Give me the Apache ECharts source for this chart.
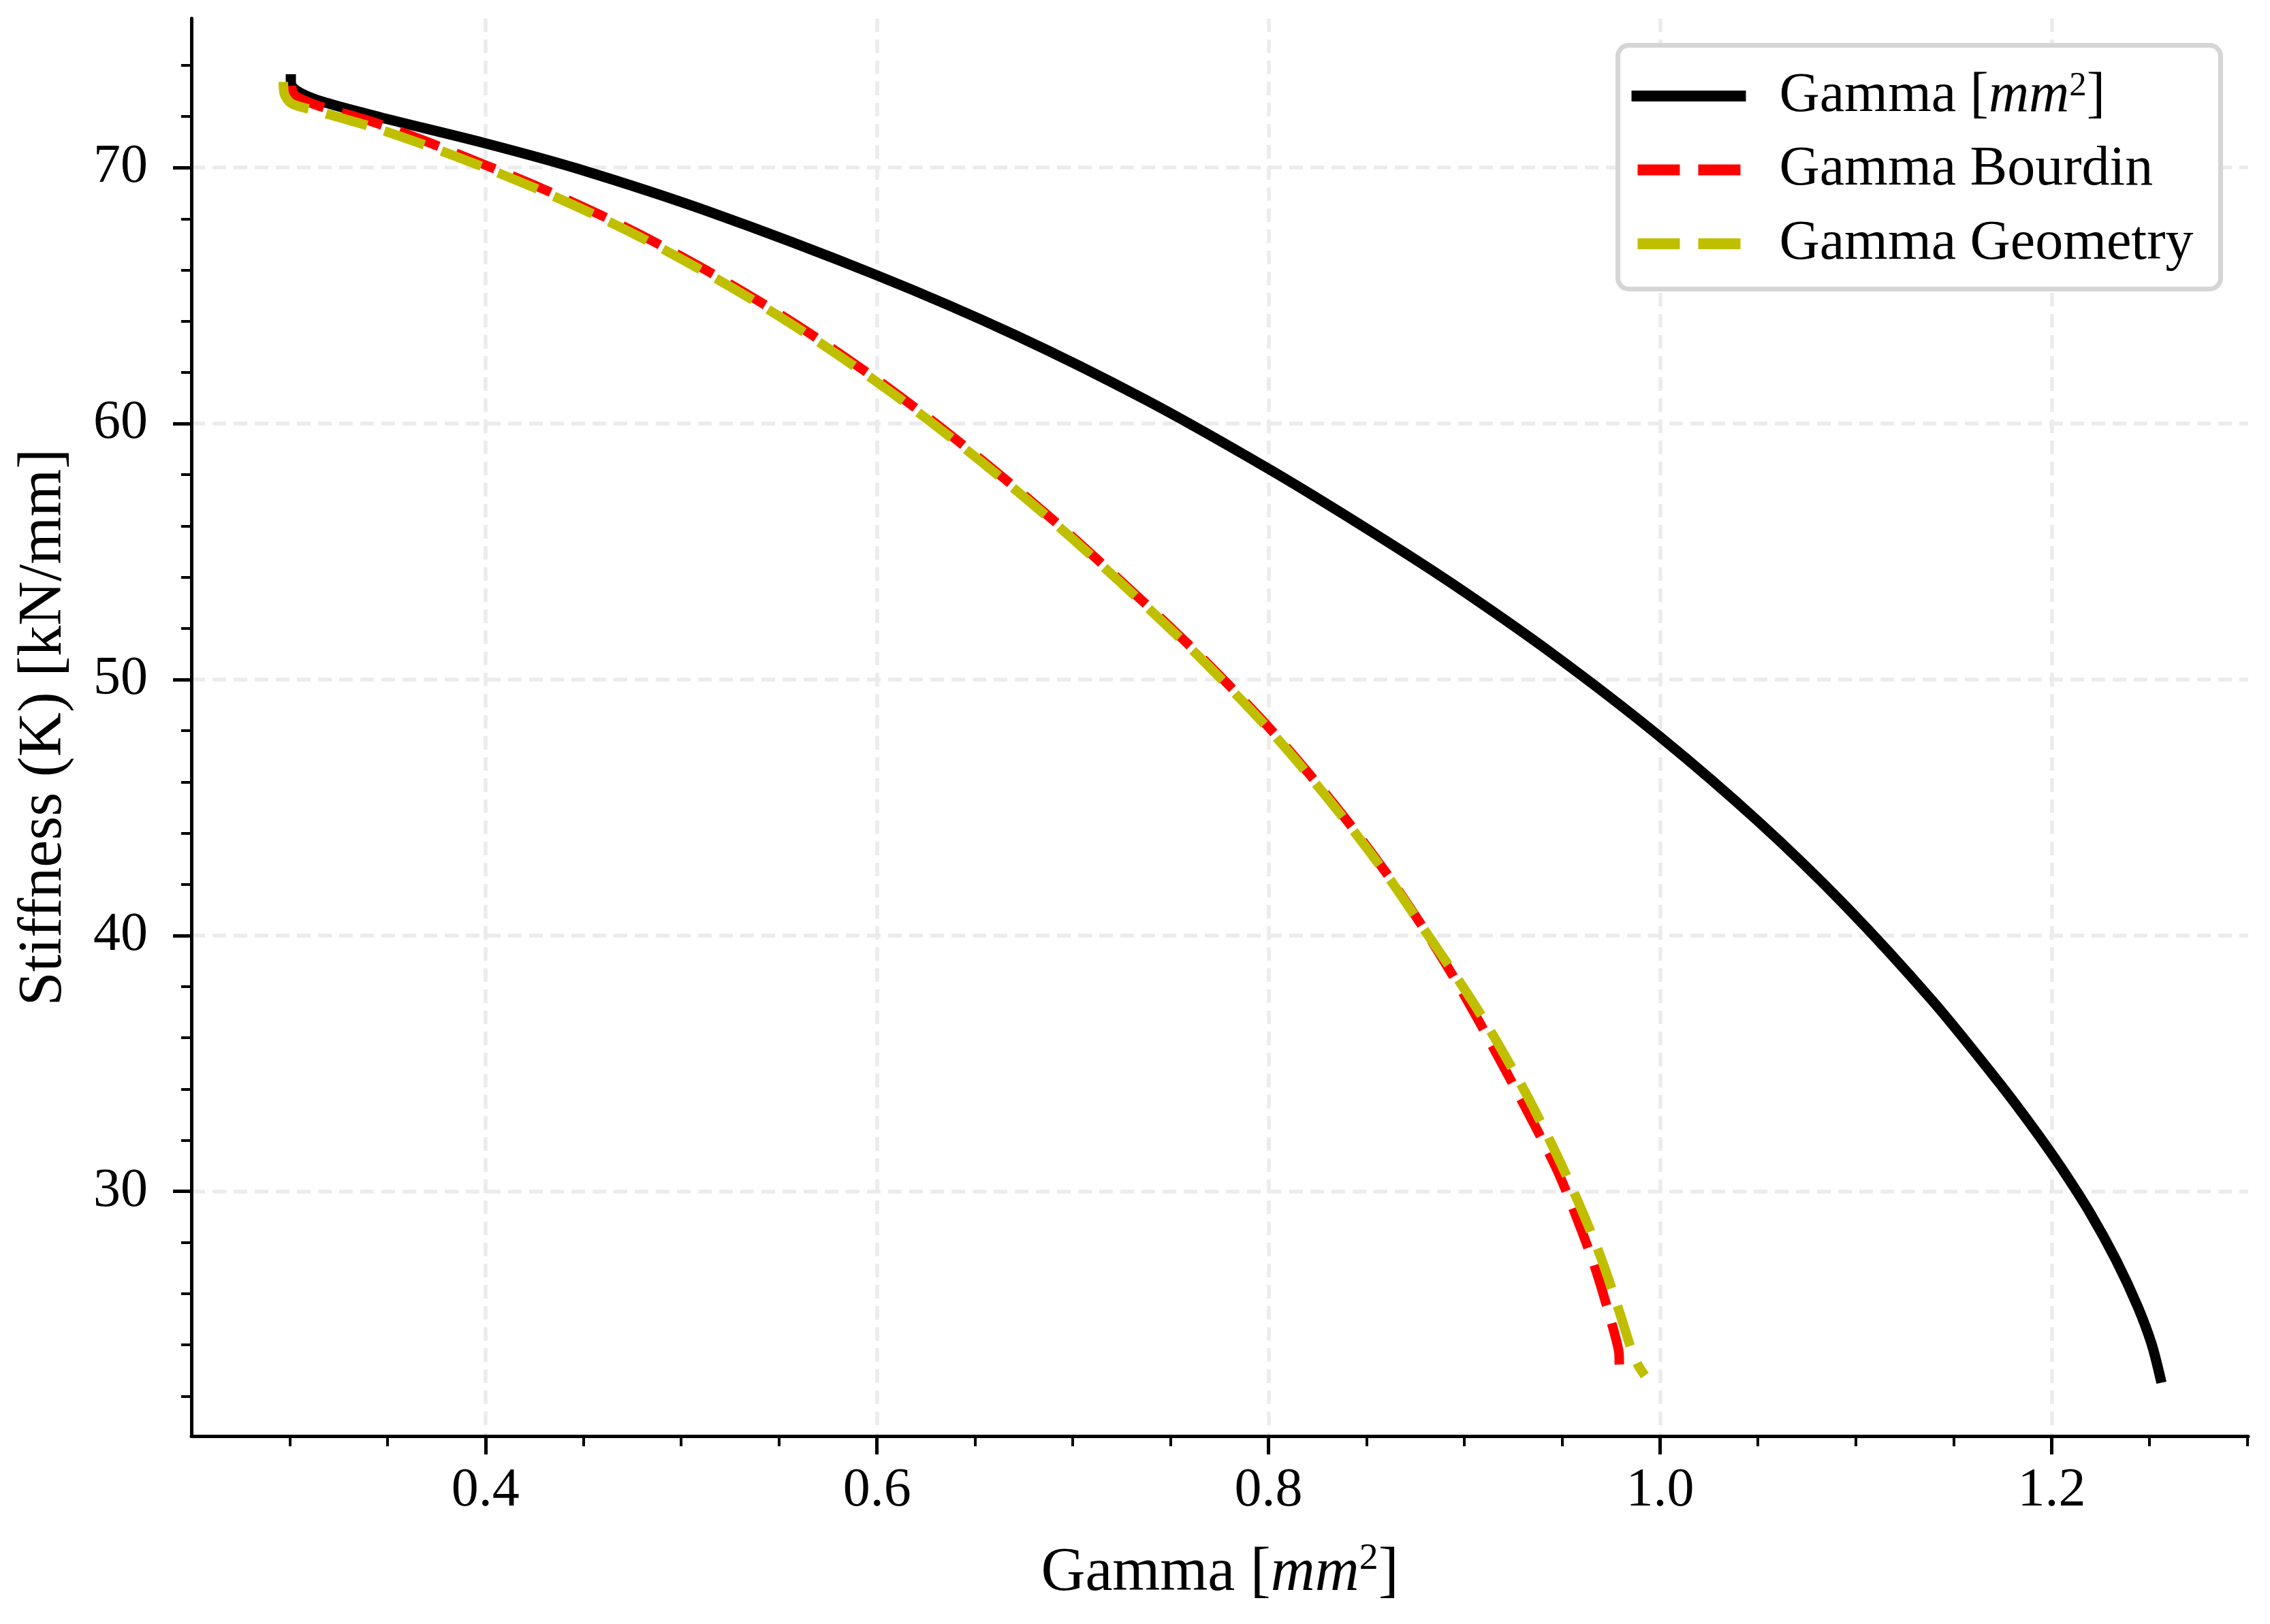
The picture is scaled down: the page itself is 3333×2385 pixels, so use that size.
<!DOCTYPE html>
<html>
<head>
<meta charset="utf-8">
<script src="https://cdn.jsdelivr.net/npm/echarts@6/dist/echarts.min.js"></script>
<style>
  html, body { margin: 0; padding: 0; background: #fff; }
  #chart { width: 3333px; height: 2385px; }
</style>
</head>
<body>
<div id="chart"></div>
<script>
// series names (legend)
const seriesNames = ['Gamma [mm^2]', 'Gamma Bourdin', 'Gamma Geometry'];

// [gamma, stiffness] pairs
const gammaPts = [
  [0.3006, 73.45], [0.3010, 73.20], [0.3060, 72.90], [0.3178, 72.55],
  [0.3466, 71.96], [0.4000, 70.95], [0.4465, 69.97], [0.5130, 68.31],
  [0.6000, 65.79], [0.6708, 63.45], [0.7374, 60.92], [0.8000, 58.23],
  [0.8483, 55.98], [0.8927, 53.80], [0.9460, 50.95], [1.0000, 47.76],
  [1.0505, 44.43], [1.0949, 41.14], [1.1393, 37.43], [1.1725, 34.31],
  [1.1900, 32.54], [1.2050, 30.91], [1.2200, 29.11], [1.2330, 27.30],
  [1.2440, 25.49], [1.2510, 24.05], [1.2555, 22.72]
];
const bourdinPts = [
  [0.3010, 73.20], [0.3022, 72.85], [0.3134, 72.45], [0.3420, 71.80],
  [0.3688, 71.05], [0.4000, 70.10], [0.4287, 69.19], [0.4576, 68.19],
  [0.4842, 67.18], [0.5130, 65.98], [0.5397, 64.78], [0.5663, 63.49],
  [0.6000, 61.72], [0.6265, 60.21], [0.6531, 58.60], [0.6775, 57.05],
  [0.6997, 55.58], [0.7241, 53.88], [0.7463, 52.30], [0.7685, 50.66],
  [0.8000, 48.14], [0.8212, 46.27], [0.8425, 44.25], [0.8620, 42.24],
  [0.8780, 40.42], [0.8940, 38.45], [0.9060, 36.85], [0.9188, 35.05],
  [0.9348, 32.75], [0.9476, 30.80], [0.9580, 28.85], [0.9673, 26.90],
  [0.9760, 24.65], [0.9789, 23.75], [0.9795, 23.10], [0.9845, 23.05]
];
const geometryPts = [
  [0.2968, 73.35], [0.2972, 72.90], [0.3010, 72.50], [0.3134, 72.22],
  [0.3420, 71.59], [0.3688, 70.89], [0.4000, 69.99], [0.4287, 69.09],
  [0.4576, 68.09], [0.4842, 67.08], [0.5130, 65.88], [0.5397, 64.68],
  [0.5663, 63.39], [0.6000, 61.62], [0.6265, 60.12], [0.6531, 58.52],
  [0.6775, 56.98], [0.6997, 55.51], [0.7241, 53.81], [0.7463, 52.23],
  [0.7685, 50.59], [0.8000, 48.07], [0.8212, 46.20], [0.8425, 44.18],
  [0.8620, 42.19], [0.8780, 40.40], [0.8940, 38.60], [0.9060, 37.20],
  [0.9174, 35.75], [0.9313, 33.85], [0.9452, 31.75], [0.9580, 29.62],
  [0.9696, 27.45], [0.9794, 25.25], [0.9850, 23.90], [0.9885, 23.25],
  [0.9922, 22.80]
];

// ticks
const xMajorTicks = [0.4, 0.6, 0.8, 1.0, 1.2];
const xMinorTicks = [0.3, 0.35, 0.45, 0.5, 0.55, 0.65, 0.7, 0.75, 0.85, 0.9, 0.95, 1.05, 1.1, 1.15, 1.25, 1.3];
const yMajorTicks = [30, 40, 50, 60, 70];
const yMinorTicks = [22, 24, 26, 28, 32, 34, 36, 38, 42, 44, 46, 48, 52, 54, 56, 58, 62, 64, 66, 68, 72, 74];
const xRange = [0.2498, 1.3004];
const yRange = [20.44, 75.83];

const FONT = 'Liberation Serif';

function mathRich(size, lh) {
  return {
    n: { fontFamily: FONT, fontSize: size, lineHeight: lh, color: '#000' },
    i: { fontFamily: FONT, fontSize: size, fontStyle: 'italic', lineHeight: lh, color: '#000' },
    s: { fontFamily: FONT, fontSize: size * 0.62, lineHeight: size * 0.7, verticalAlign: 'top', color: '#000' }
  };
}

const gridStyle = { color: '#ebebeb', width: 5.5, type: [20, 11] };
const black = '#000';
const dashIcon = 'path://M9,0H71V16H9Z M98,0H160V16H98Z M0,7.9H0.05V8H0Z M167.95,7.9H168V8H167.95Z';

const chart = echarts.init(document.getElementById('chart'), null, { renderer: 'canvas' });

chart.setOption({
  animation: false,
  backgroundColor: '#fff',
  grid: { left: 281, right: 32, top: 27, bottom: 276 },
  legend: {
    orient: 'vertical',
    left: 2375.5,
    top: 66.5,
    itemWidth: 168,
    itemHeight: 16,
    itemGap: 26.5,
    padding: [33.5, 40, 25.5, 20],
    backgroundColor: '#fff',
    borderColor: '#d5d5d5',
    borderWidth: 7,
    borderRadius: 16,
    selectedMode: false,
    itemStyle: { borderWidth: 0 },
    data: [
      { name: seriesNames[0], icon: 'path://M0,0H168V16H0Z' },
      { name: seriesNames[1], icon: dashIcon },
      { name: seriesNames[2], icon: dashIcon }
    ],
    formatter: function (name) {
      if (name === seriesNames[0]) return '{n|Gamma [}{i|mm}{s|2}{n|]}';
      return '{n|' + name + '}';
    },
    textStyle: {
      fontFamily: FONT, fontSize: 82, lineHeight: 80, color: black,
      padding: [0, 0, 0, 44],
      rich: mathRich(82, 80)
    }
  },
  xAxis: [
    {
      type: 'value',
      min: xRange[0], max: xRange[1],
      position: 'bottom',
      axisLine: { show: true, onZero: false, lineStyle: { color: black, width: 5 } },
      axisTick: { show: true, customValues: xMajorTicks, length: 27, lineStyle: { color: black, width: 5 } },
      axisLabel: {
        customValues: xMajorTicks, margin: 41,
        formatter: v => v.toFixed(1),
        fontFamily: FONT, fontSize: 80, lineHeight: 80, color: black
      },
      splitLine: { show: true, lineStyle: gridStyle },
      name: '{n|Gamma [}{i|mm}{s|2}{n|]}',
      nameLocation: 'middle',
      nameGap: 152,
      nameTextStyle: { fontFamily: FONT, fontSize: 90, lineHeight: 100, color: black, rich: mathRich(90, 100) }
    },
    {
      type: 'value',
      min: xRange[0], max: xRange[1],
      position: 'bottom',
      axisLine: { show: false },
      axisTick: { show: true, customValues: xMinorTicks, length: 15, lineStyle: { color: black, width: 4 } },
      axisLabel: { show: false },
      splitLine: { show: false }
    }
  ],
  yAxis: [
    {
      type: 'value',
      min: yRange[0], max: yRange[1],
      position: 'left',
      axisLine: { show: true, onZero: false, lineStyle: { color: black, width: 5 } },
      axisTick: { show: true, customValues: yMajorTicks, length: 27, lineStyle: { color: black, width: 5 } },
      axisLabel: {
        customValues: yMajorTicks, margin: 64,
        fontFamily: FONT, fontSize: 80, lineHeight: 80, color: black
      },
      splitLine: { show: true, lineStyle: gridStyle },
      name: 'Stiffness (K) [kN/mm]',
      nameLocation: 'middle',
      nameGap: 166,
      nameTextStyle: { fontFamily: FONT, fontSize: 90, lineHeight: 100, color: black }
    },
    {
      type: 'value',
      min: yRange[0], max: yRange[1],
      position: 'left',
      axisLine: { show: false },
      axisTick: { show: true, customValues: yMinorTicks, length: 15, lineStyle: { color: black, width: 4 } },
      axisLabel: { show: false },
      splitLine: { show: false }
    }
  ],
  series: [
    {
      name: seriesNames[0], type: 'line', data: gammaPts,
      showSymbol: false, symbol: 'none', smooth: 0.3, emphasis: { disabled: true },
      itemStyle: { color: black },
      lineStyle: { color: black, width: 15, cap: 'square', join: 'round' }
    },
    {
      name: seriesNames[1], type: 'line', data: bourdinPts,
      showSymbol: false, symbol: 'none', smooth: 0.3, emphasis: { disabled: true },
      itemStyle: { color: '#ff0000' },
      lineStyle: { color: '#ff0000', width: 14, type: [62, 27], cap: 'butt', join: 'round' }
    },
    {
      name: seriesNames[2], type: 'line', data: geometryPts,
      showSymbol: false, symbol: 'none', smooth: 0.3, emphasis: { disabled: true },
      itemStyle: { color: '#bfbf00' },
      lineStyle: { color: '#bfbf00', width: 14, type: [62, 27], cap: 'butt', join: 'round' }
    }
  ]
});
</script>
</body>
</html>
